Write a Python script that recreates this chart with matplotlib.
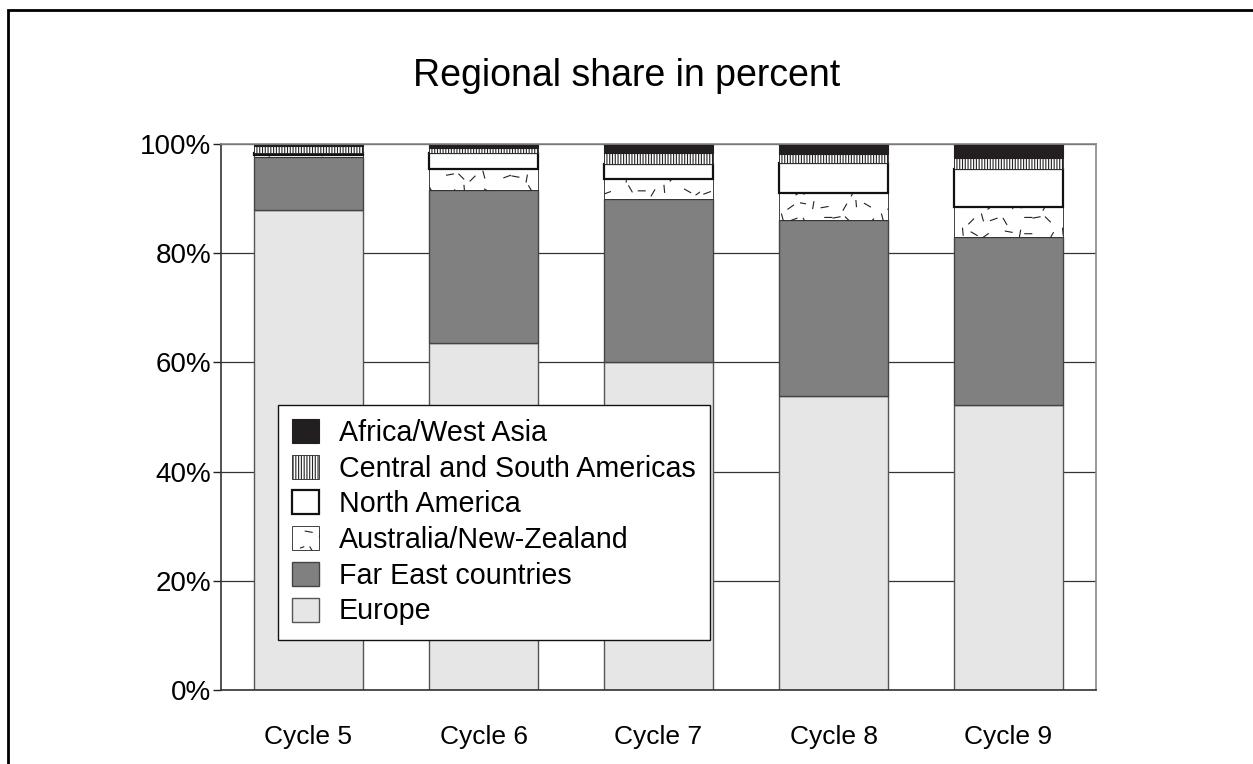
import numpy as np
import matplotlib
matplotlib.use("Agg")
import matplotlib.pyplot as plt
import matplotlib.hatch as mhatch
from matplotlib.path import Path
from matplotlib.patches import Rectangle

plt.rcParams["font.family"] = ["Liberation Sans", "DejaVu Sans"]
plt.rcParams["hatch.linewidth"] = 0.8

# ---------------- data (percent, stacked bottom -> top) ----------------
cycles = ["Cycle 5", "Cycle 6", "Cycle 7", "Cycle 8", "Cycle 9"]
europe = [87.9, 63.6, 60.1, 53.8, 52.2]
far_east = [9.7, 28.0, 29.8, 32.3, 30.8]
australia_nz = [0.3, 3.8, 3.6, 4.9, 5.4]
north_america = [0.5, 2.9, 2.8, 5.5, 7.0]
central_south_am = [1.3, 0.9, 2.0, 1.7, 2.0]
africa_west_asia = [0.3, 0.8, 1.7, 1.8, 2.6]
yticks = [0, 20, 40, 60, 80, 100]


# ---------------- scattered-dash hatch (used for Australia) ----------------
# short dashes on a skewed 7x7 lattice inside one hatch cell, angles cycling
_ANGLES = [20, 120, 0, 60, 95, 150, 35, 170, 80, 10, 135, 45, 105]
_DLEN = 0.035


def _dash_list():
    out = []
    k = 0
    for j in range(7):
        for i in range(7):
            xx = ((i + 0.5) / 7 + 0.37 * j / 7 + 0.03 * ((i * 3 + j) % 4)) % 1.0
            yy = ((j + 0.5) / 7 + 0.02 * ((i * 5 + j) % 3)) % 1.0
            out.append((xx, yy, _ANGLES[k % len(_ANGLES)]))
            k += 1
    return out


_DASHES = _dash_list()


class DashHatch(mhatch.HatchPatternBase):
    def __init__(self, hatch, density):
        self.num_vertices = len(_DASHES) * 2 if "*" in hatch else 0

    def set_vertices_and_codes(self, vertices, codes):
        for i, (x, y, a) in enumerate(_DASHES):
            dx = _DLEN * np.cos(np.radians(a))
            dy = _DLEN * np.sin(np.radians(a))
            vertices[2 * i] = (x - dx, y - dy)
            vertices[2 * i + 1] = (x + dx, y + dy)
            codes[2 * i] = Path.MOVETO
            codes[2 * i + 1] = Path.LINETO


mhatch._hatch_types = [h for h in mhatch._hatch_types if h is not mhatch.Stars] + [DashHatch]

# ---------------- figure ----------------
W, H = 1253, 764
fig = plt.figure(figsize=(W / 100, H / 100), dpi=100)
ax = fig.add_axes([221 / W, 1 - 690 / H, (1096 - 221) / W, (690 - 144) / H])

series = [
    ("Europe", europe, dict(facecolor="#e6e6e6", edgecolor="#555555", linewidth=1.0)),
    ("Far East countries", far_east, dict(facecolor="#808080", edgecolor="#444444", linewidth=1.0)),
    ("Australia/New-Zealand", australia_nz, dict(facecolor="white", edgecolor="#222222", linewidth=0.6, hatch="*")),
    ("North America", north_america, dict(facecolor="white", edgecolor="#111111", linewidth=1.6)),
    ("Central and South Americas", central_south_am, dict(facecolor="white", edgecolor="#222222", linewidth=0.6, hatch="||||||")),
    ("Africa/West Asia", africa_west_asia, dict(facecolor="#231f20", edgecolor="#231f20", linewidth=0.8)),
]

x = np.arange(len(cycles))
bottom = np.zeros(len(cycles))
handles = []
for label, vals, style in series:
    bars = ax.bar(x, vals, width=0.62, bottom=bottom, label=label, **style)
    handles.append(bars)
    bottom += np.array(vals)

ax.set_xlim(-0.5, len(cycles) - 0.5)
ax.set_ylim(0, 100)
ax.set_yticks(yticks)
ax.set_yticklabels([f"{v}%" for v in yticks])
ax.set_xticks(x)
ax.set_xticklabels(cycles)
ax.tick_params(axis="y", direction="out", length=6, width=1, pad=1, labelsize=20, color="#222222")
ax.tick_params(axis="x", length=0, pad=25, labelsize=19)

ax.set_axisbelow(True)
ax.yaxis.grid(True, color="#333333", linewidth=0.9)
for side in ["left", "bottom"]:
    ax.spines[side].set_color("#333333")
    ax.spines[side].set_linewidth(1.2)
for side in ["top", "right"]:
    ax.spines[side].set_color("#888888")
    ax.spines[side].set_linewidth(1.2)

leg = ax.legend(handles[::-1], [s[0] for s in series][::-1],
                loc="upper left", bbox_to_anchor=((278 - 221) / 875, (690 - 404.5) / 546),
                borderaxespad=0, fontsize=20.6, handlelength=0.92, handleheight=0.92,
                handletextpad=0.7, labelspacing=0.27, borderpad=0.5,
                fancybox=False, framealpha=1, edgecolor="#111111")
leg.get_frame().set_linewidth(1.0)

fig.text(627 / W, 1 - 76 / H, "Regional share in percent", ha="center", va="center", fontsize=27)

# outer frame (left and top edges visible)
fig.patches.append(Rectangle((8 / W, -0.1), 1.2, 1.1 - 10 / H, transform=fig.transFigure,
                             fill=False, edgecolor="black", linewidth=2))

fig.savefig("out.png", dpi=100)
